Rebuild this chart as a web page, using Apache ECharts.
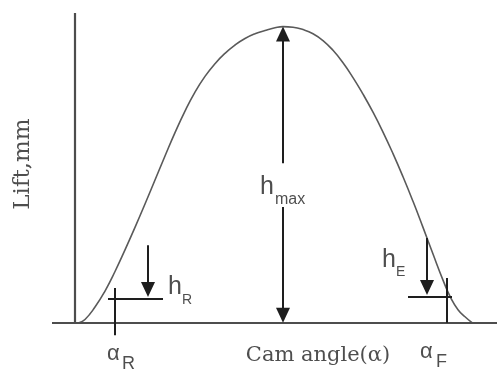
<!DOCTYPE html>
<html>
<head>
<meta charset="utf-8">
<script src="https://cdn.jsdelivr.net/npm/echarts@6/dist/echarts.min.js"></script>
<style>
  html, body { margin: 0; padding: 0; background: #fff; }
  #main { width: 497px; height: 376px; }
</style>
</head>
<body>
<div id="main"></div>
<script>
// lift profile (angle in arbitrary units, lift in mm)
const camAngle = [2, 5, 10, 15, 20, 25, 30, 35, 40, 45, 50, 55, 60, 65, 70, 75, 80, 85, 90, 95, 100, 104,
  109, 114, 119, 124, 129, 134, 139, 144, 149, 154, 159, 164, 169, 174, 179, 184, 188, 191.5, 195, 198.5]
const lift = [0, 0.11, 0.53, 1.07, 1.73, 2.46, 3.22, 4.01, 4.82, 5.63, 6.42, 7.15, 7.79, 8.32, 8.75, 9.1, 9.38, 9.6, 9.76, 9.87, 9.96, 10,
  9.98, 9.9, 9.76, 9.53, 9.2, 8.78, 8.28, 7.72, 7.11, 6.44, 5.71, 4.93, 4.1, 3.22, 2.32, 1.44, 0.82, 0.44, 0.2, 0]

// marked points on the profile
const peakAngle = 104
const hMax = 10
const alphaR = 20
const hR = 0.8
const hRArrowAt = 36.5
const alphaF = 186
const hE = 0.87
const hEArrowAt = 176

const xRange = [-37.5, 211]
const yRange = [-1.8, 10.9]
const axisEnds = { xFrom: -11.5, yTo: 10.46 }

const chart = echarts.init(document.getElementById('main'), null, { renderer: 'canvas' })

const axisStyle = { color: '#4d4d4d', width: 2.2, type: 'solid' }
const inkStyle = { color: '#1e1e1e', width: 2, type: 'solid' }
const arrowSize = [14, 15]
// triangle is drawn centred on the end point, pull the end back half its length
const tipPad = 0.25

function seg(x1, y1, x2, y2, style, arrow) {
  return [
    { coord: [x1, y1], symbol: 'none', lineStyle: style },
    { coord: [x2, y2], symbol: arrow ? 'triangle' : 'none', symbolSize: arrowSize }
  ]
}

const sans = 'Liberation Sans, Arial, sans-serif'
const serif = 'DejaVu Serif, serif'
const ink = '#222'

// text pinned at top-left of its box; sub is shifted by a pixel offset
function txt(x, y, text, size, offset) {
  return {
    value: [x, y],
    label: {
      show: true,
      position: 'inside',
      align: 'left',
      verticalAlign: 'top',
      formatter: text,
      fontFamily: sans,
      fontSize: size,
      lineHeight: size,
      color: ink,
      offset: offset || [0, 0]
    }
  }
}

const option = {
  animation: false,
  backgroundColor: '#fff',
  grid: { left: 0, right: 0, top: 0, bottom: 0 },
  xAxis: { type: 'value', min: xRange[0], max: xRange[1], show: false },
  yAxis: { type: 'value', min: yRange[0], max: yRange[1], show: false },
  series: [
    {
      name: 'lift',
      type: 'line',
      data: camAngle.map((a, i) => [a, lift[i]]),
      smooth: true,
      showSymbol: false,
      silent: true,
      lineStyle: { color: '#5a5a5a', width: 1.6 },
      markLine: {
        silent: true,
        symbol: 'none',
        label: { show: false },
        data: [
          seg(axisEnds.xFrom, 0, xRange[1], 0, axisStyle),
          seg(0, 0, 0, axisEnds.yTo, axisStyle),
          seg(peakAngle, 5.39, peakAngle, hMax - tipPad, inkStyle, true),
          seg(peakAngle, 3.91, peakAngle, tipPad, inkStyle, true),
          seg(hRArrowAt, 2.62, hRArrowAt, hR + 0.07 + tipPad, inkStyle, true),
          seg(16.5, hR, 44, hR, inkStyle),
          seg(alphaR, 1.17, alphaR, -0.42, inkStyle),
          seg(hEArrowAt, 2.86, hEArrowAt, hE + 0.07 + tipPad, inkStyle, true),
          seg(166.5, hE, 188.5, hE, inkStyle),
          seg(alphaF, 1.51, alphaF, 0, inkStyle)
        ]
      }
    },
    {
      name: 'labels',
      type: 'scatter',
      symbolSize: 0,
      silent: true,
      clip: false,
      data: [
        txt(92.5, 4.99, 'h', 25),
        txt(92.5, 4.99, 'max', 16, [15, 17]),
        txt(46.5, 1.61, 'h', 25),
        txt(46.5, 1.61, 'R', 14, [14, 18]),
        txt(153.5, 2.52, 'h', 25),
        txt(153.5, 2.52, 'E', 14, [14, 17]),
        txt(16, -0.69, 'α', 22),
        txt(16, -0.69, 'R', 18, [15, 12]),
        txt(172.5, -0.62, 'α', 22),
        txt(172.5, -0.62, 'F', 18, [16, 12]),
        {
          value: [121.5, -0.77],
          label: {
            show: true, position: 'inside', align: 'center', verticalAlign: 'top',
            formatter: 'Cam angle(α)', fontFamily: serif, fontSize: 21, color: ink
          }
        },
        {
          value: [-26, 5.36],
          label: {
            show: true, position: 'inside', align: 'center', verticalAlign: 'middle', rotate: 90,
            formatter: 'Lift,mm', fontFamily: serif, fontSize: 23, color: ink
          }
        }
      ]
    }
  ]
}

chart.setOption(option)
</script>
</body>
</html>
